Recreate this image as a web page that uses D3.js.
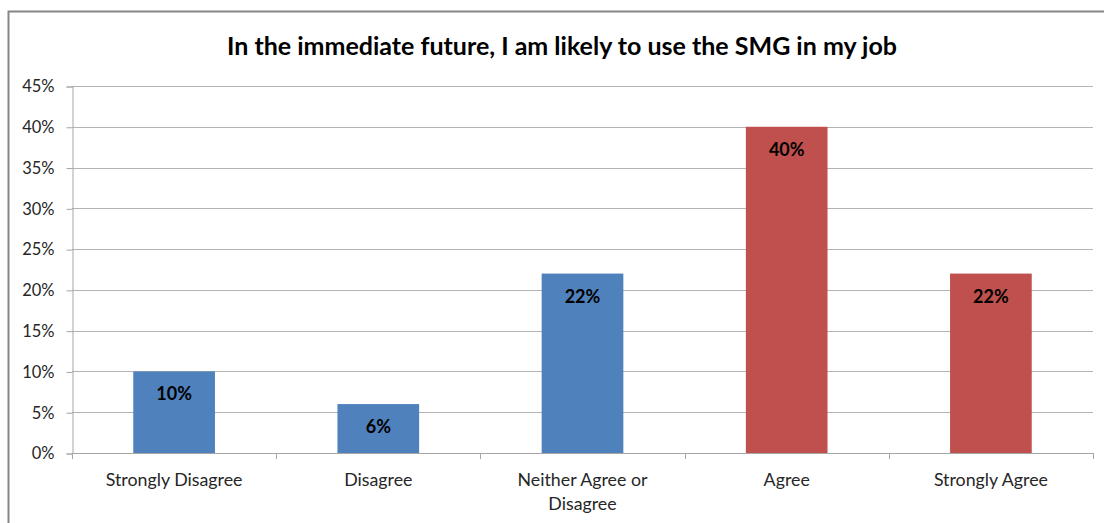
<!DOCTYPE html>
<html>
<head>
<meta charset="utf-8">
<script src="https://cdn.jsdelivr.net/npm/d3@7"></script>
<style>
  html, body { margin: 0; padding: 0; background: #fff; }
  svg { display: block; font-family: Lato, "Open Sans", sans-serif; }
</style>
</head>
<body>
<svg id="chart" width="1104" height="523"></svg>
<script>
// Survey responses: "In the immediate future, I am likely to use the SMG in my job"
const categories = ["Strongly Disagree", "Disagree", "Neither Agree or Disagree", "Agree", "Strongly Agree"];
const values = [0.10, 0.06, 0.22, 0.40, 0.22];
const barColors = ["#4F81BD", "#4F81BD", "#4F81BD", "#C0504D", "#C0504D"];
const yTicks = [0, 0.05, 0.10, 0.15, 0.20, 0.25, 0.30, 0.35, 0.40, 0.45];
const title = "In the immediate future, I am likely to use the SMG in my job";

const svg = d3.select("#chart");
const W = 1104, H = 523;
const plot = { left: 72, right: 1093, top: 86, bottom: 453 };

// Outer chart frame
svg.append("rect")
  .attr("x", 8.5).attr("y", 11.5)
  .attr("width", W + 10).attr("height", H + 10)
  .attr("fill", "none").attr("stroke", "#868686").attr("stroke-width", 2);

svg.append("text")
  .attr("x", 562).attr("y", 55)
  .attr("text-anchor", "middle")
  .attr("font-size", 25).attr("font-weight", "bold").attr("fill", "#000")
  .text(title);

const x = d3.scaleBand().domain(categories)
  .range([plot.left, plot.right]).paddingInner(0.6).paddingOuter(0.3);
const y = d3.scaleLinear().domain([0, 0.45]).range([plot.bottom, plot.top]);

// Horizontal gridlines
svg.append("g").selectAll("line").data(yTicks.filter(d => d > 0)).join("line")
  .attr("x1", plot.left).attr("x2", plot.right)
  .attr("y1", d => Math.round(y(d)) + 0.5).attr("y2", d => Math.round(y(d)) + 0.5)
  .attr("stroke", "#b3b3b3").attr("stroke-width", 1);

// Y axis
const yAxis = d3.axisLeft(y).tickValues(yTicks).tickFormat(d3.format(".0%")).tickSize(6).tickPadding(12);
const gy = svg.append("g").attr("transform", `translate(${plot.left + 0.5},0.5)`).call(yAxis);
gy.select(".domain").attr("stroke", "#a6a6a6");
gy.selectAll(".tick line").attr("stroke", "#a6a6a6");
gy.selectAll(".tick text").attr("font-size", 16.5).attr("fill", "#262626")
  .attr("font-family", "Lato, 'Open Sans', sans-serif");

// Bars
svg.append("g").selectAll("rect").data(values).join("rect")
  .attr("x", (d, i) => x(categories[i]))
  .attr("y", d => y(d))
  .attr("width", x.bandwidth())
  .attr("height", d => y(0) - y(d))
  .attr("fill", (d, i) => barColors[i]);

// Value labels inside bars
svg.append("g").selectAll("text").data(values).join("text")
  .attr("x", (d, i) => x(categories[i]) + x.bandwidth() / 2)
  .attr("y", d => y(d) + 29)
  .attr("text-anchor", "middle")
  .attr("font-size", 18).attr("font-weight", "bold").attr("fill", "#000")
  .text(d => d3.format(".0%")(d));

// X axis baseline and category dividers
const step = (plot.right - plot.left) / categories.length;
svg.append("line")
  .attr("x1", plot.left).attr("x2", plot.right)
  .attr("y1", plot.bottom + 0.5).attr("y2", plot.bottom + 0.5)
  .attr("stroke", "#a6a6a6");
svg.append("g").selectAll("line").data(d3.range(categories.length + 1)).join("line")
  .attr("x1", i => Math.round(plot.left + i * step) + 0.5)
  .attr("x2", i => Math.round(plot.left + i * step) + 0.5)
  .attr("y1", plot.bottom).attr("y2", plot.bottom + 6)
  .attr("stroke", "#a6a6a6");

// Category labels, wrapped within each category slot
const labelLines = {
  "Neither Agree or Disagree": ["Neither Agree or", "Disagree"]
};
const xl = svg.append("g").selectAll("text").data(categories).join("text")
  .attr("text-anchor", "middle")
  .attr("font-size", 17.8).attr("fill", "#262626");
xl.each(function(c) {
  const lines = labelLines[c] || [c];
  const cx = x(c) + x.bandwidth() / 2;
  d3.select(this).selectAll("tspan").data(lines).join("tspan")
    .attr("x", cx).attr("y", (d, i) => 486 + i * 24)
    .text(d => d);
});
</script>
</body>
</html>
